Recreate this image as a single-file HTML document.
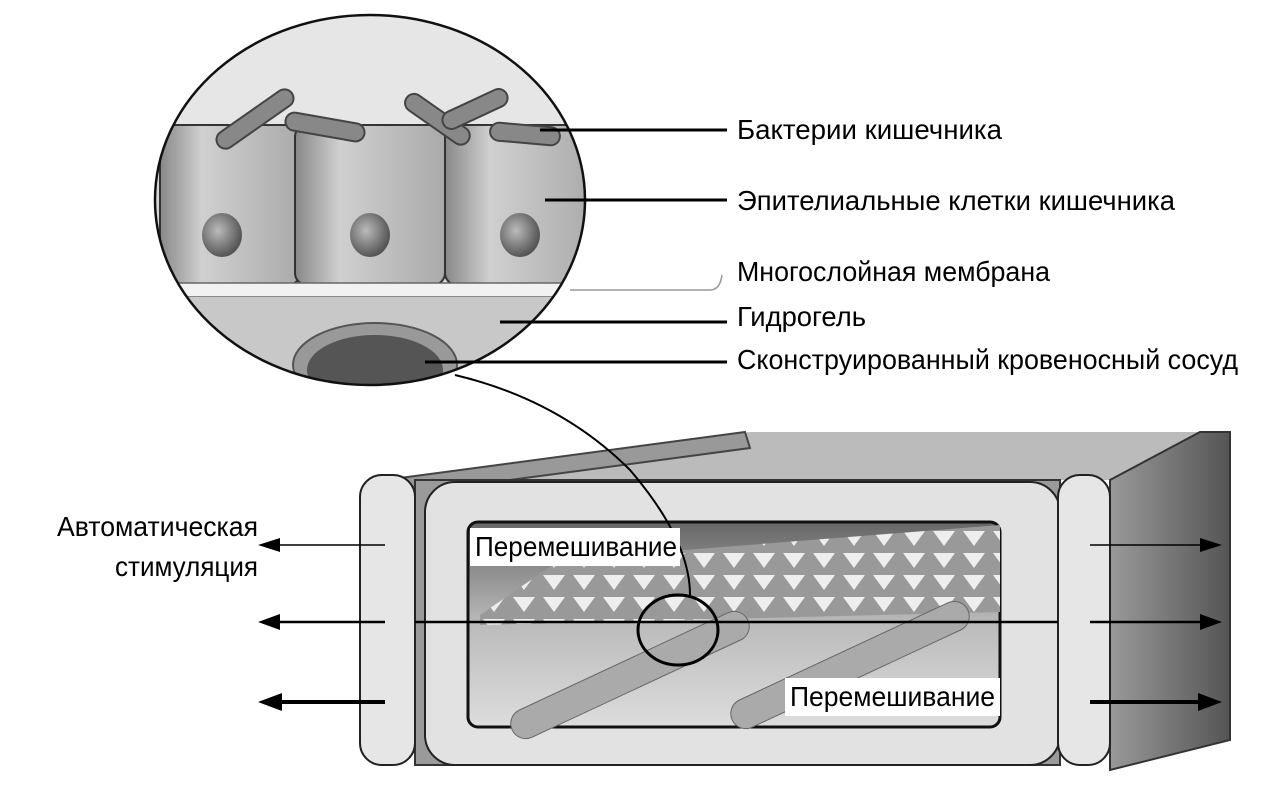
<!DOCTYPE html>
<html><head><meta charset="utf-8"><style>
html,body{margin:0;padding:0;background:#fff;}
svg{display:block}
text{font-family:"Liberation Sans",sans-serif;fill:#000}
</style></head><body>
<svg width="1281" height="795" viewBox="0 0 1281 795" xmlns="http://www.w3.org/2000/svg">
<defs>
<clipPath id="cc"><ellipse cx="370" cy="200" rx="215" ry="185"/></clipPath>
<radialGradient id="nuc" cx="0.4" cy="0.4" r="0.6"><stop offset="0" stop-color="#bbb"/><stop offset="1" stop-color="#555"/></radialGradient>
<linearGradient id="cell" x1="0" y1="0" x2="1" y2="0"><stop offset="0" stop-color="#888"/><stop offset="0.3" stop-color="#d0d0d0"/><stop offset="1" stop-color="#aaa"/></linearGradient>
<linearGradient id="right" x1="0" y1="0" x2="1" y2="0"><stop offset="0" stop-color="#999"/><stop offset="1" stop-color="#555"/></linearGradient>
<linearGradient id="win" x1="0" y1="0" x2="0" y2="1"><stop offset="0" stop-color="#666"/><stop offset="0.5" stop-color="#bbb"/><stop offset="1" stop-color="#ddd"/></linearGradient>
<pattern id="mesh" width="30" height="22" patternUnits="userSpaceOnUse"><rect width="30" height="22" fill="#999"/><path d="M3 3h22l-11 15z" fill="#eee"/></pattern>
</defs>
<g clip-path="url(#cc)">
<rect x="150" y="10" width="440" height="380" fill="#d8d8d8"/>
<rect x="150" y="10" width="440" height="120" fill="#e6e6e6"/>
<rect x="160" y="125" width="140" height="160" rx="12" fill="url(#cell)" stroke="#333" stroke-width="2"/>
<rect x="295" y="125" width="150" height="160" rx="12" fill="url(#cell)" stroke="#333" stroke-width="2"/>
<rect x="445" y="125" width="150" height="160" rx="12" fill="url(#cell)" stroke="#333" stroke-width="2"/>
<ellipse cx="222" cy="235" rx="20" ry="22" fill="url(#nuc)"/>
<ellipse cx="370" cy="235" rx="20" ry="22" fill="url(#nuc)"/>
<ellipse cx="520" cy="235" rx="20" ry="22" fill="url(#nuc)"/>
<g fill="#888" stroke="#444" stroke-width="2">
<rect x="210" y="110" width="90" height="18" rx="9" transform="rotate(-35 255 119)"/>
<rect x="285" y="118" width="80" height="18" rx="9" transform="rotate(10 325 127)"/>
<rect x="400" y="110" width="75" height="18" rx="9" transform="rotate(35 437 119)"/>
<rect x="440" y="100" width="70" height="18" rx="9" transform="rotate(-25 475 109)"/>
<rect x="490" y="125" width="70" height="18" rx="9" transform="rotate(5 525 134)"/>
</g>
<rect x="150" y="283" width="440" height="14" fill="#f2f2f2" stroke="#666" stroke-width="1.5"/>
<rect x="150" y="297" width="440" height="100" fill="#c8c8c8"/>
<ellipse cx="375" cy="365" rx="82" ry="42" fill="#999" stroke="#555" stroke-width="2"/>
<ellipse cx="375" cy="370" rx="68" ry="35" fill="#555"/>
</g>
<ellipse cx="370" cy="200" rx="215" ry="185" fill="none" stroke="#111" stroke-width="2.5"/>
<g stroke="#000" stroke-width="3">
<line x1="540" y1="130" x2="727" y2="130"/>
<line x1="545" y1="200" x2="727" y2="200"/>
<line x1="500" y1="322" x2="727" y2="322"/>
<line x1="425" y1="362" x2="727" y2="362"/>
</g>
<path d="M570 290 H710 Q720 290 722 275" fill="none" stroke="#999" stroke-width="1.5"/>
<g font-size="28">
<text x="737" y="139" textLength="265" lengthAdjust="spacingAndGlyphs">Бактерии кишечника</text>
<text x="737" y="210" textLength="438" lengthAdjust="spacingAndGlyphs">Эпителиальные клетки кишечника</text>
<text x="737" y="281" textLength="313" lengthAdjust="spacingAndGlyphs">Многослойная мембрана</text>
<text x="737" y="326" textLength="129" lengthAdjust="spacingAndGlyphs">Гидрогель</text>
<text x="737" y="369" textLength="501" lengthAdjust="spacingAndGlyphs">Сконструированный кровеносный сосуд</text>
</g>
<polygon points="395,480 750,432 1230,432 1230,480" fill="#bbb"/>
<polygon points="400,478 745,432 750,448 420,492" fill="#999" stroke="#444" stroke-width="2"/>
<polygon points="1110,480 1200,432 1230,432 1230,740 1110,770" fill="url(#right)" stroke="#333" stroke-width="2"/>
<rect x="415" y="480" width="645" height="285" fill="#9a9a9a" stroke="#333" stroke-width="2"/>
<rect x="425" y="482" width="635" height="283" rx="30" fill="#e2e2e2" stroke="#222" stroke-width="2"/>
<rect x="468" y="522" width="532" height="205" rx="10" fill="url(#win)" stroke="#111" stroke-width="3"/>
<polygon points="480,615 560,560 1000,525 1000,612 480,625" fill="url(#mesh)"/>
<g fill="#aaa" stroke="#666">
<rect x="500" y="660" width="260" height="30" rx="15" transform="rotate(-25 630 675)"/>
<rect x="720" y="650" width="260" height="30" rx="15" transform="rotate(-25 850 665)"/>
</g>
<rect x="360" y="475" width="55" height="290" rx="22" fill="#e6e6e6" stroke="#222" stroke-width="2"/>
<rect x="1058" y="475" width="52" height="290" rx="22" fill="#e6e6e6" stroke="#222" stroke-width="2"/>
<line x1="415" y1="622" x2="1058" y2="622" stroke="#000" stroke-width="2.5"/>
<path d="M455 375 Q560 400 630 470 Q690 540 690 595" fill="none" stroke="#000" stroke-width="2"/>
<ellipse cx="678" cy="630" rx="40" ry="35" fill="none" stroke="#000" stroke-width="3"/>
<g stroke="#000">
<line x1="275" y1="545" x2="385" y2="545" stroke-width="1.5"/>
<line x1="270" y1="622" x2="385" y2="622" stroke-width="2.5"/>
<line x1="270" y1="702" x2="385" y2="702" stroke-width="4"/>
<line x1="1090" y1="545" x2="1205" y2="545" stroke-width="1.5"/>
<line x1="1090" y1="622" x2="1205" y2="622" stroke-width="2.5"/>
<line x1="1090" y1="702" x2="1205" y2="702" stroke-width="4"/>
</g>
<g fill="#000">
<polygon points="258,545 280,538 280,552"/>
<polygon points="258,622 280,614 280,630"/>
<polygon points="258,702 282,693 282,711"/>
<polygon points="1222,545 1200,538 1200,552"/>
<polygon points="1222,622 1200,614 1200,630"/>
<polygon points="1222,702 1198,693 1198,711"/>
</g>
<rect x="470" y="528" width="210" height="38" fill="#fff"/>
<rect x="785" y="678" width="215" height="38" fill="#fff"/>
<g font-size="28">
<text x="475" y="556" textLength="202" lengthAdjust="spacingAndGlyphs">Перемешивание</text>
<text x="790" y="706" textLength="205" lengthAdjust="spacingAndGlyphs">Перемешивание</text>
<text x="57" y="536" textLength="201" lengthAdjust="spacingAndGlyphs">Автоматическая</text>
<text x="115" y="576" textLength="143" lengthAdjust="spacingAndGlyphs">стимуляция</text>
</g>
</svg>
</body></html>
